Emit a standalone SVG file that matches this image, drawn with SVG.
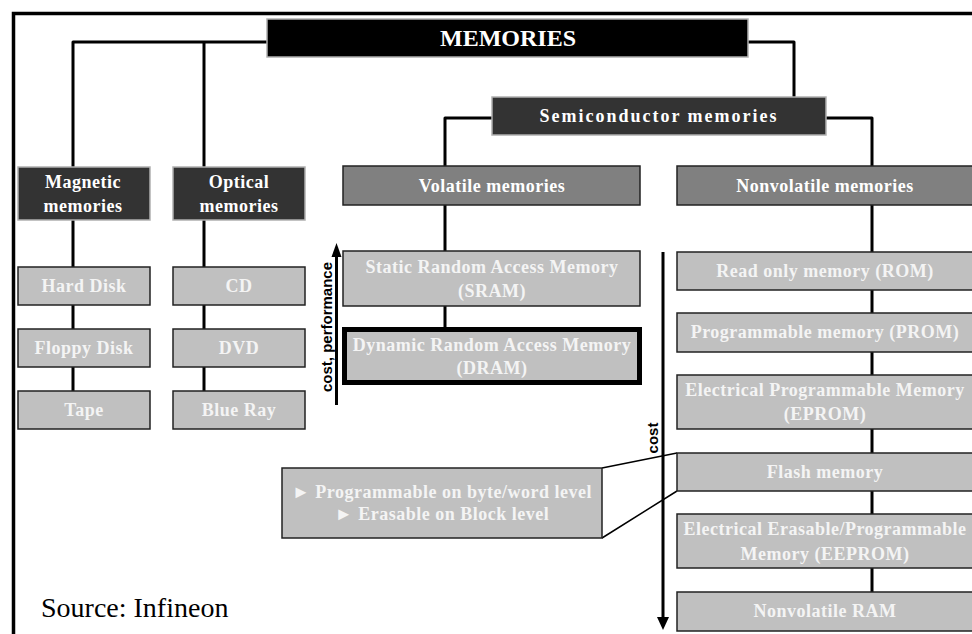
<svg xmlns="http://www.w3.org/2000/svg" width="972" height="634" viewBox="0 0 972 634">
<style>
.t{font-family:"Liberation Serif","Times New Roman",serif;font-weight:bold;font-size:18px;letter-spacing:0.5px;text-anchor:middle;fill:#ffffff}
.tl{fill:#f4f4f4}
.dark{fill:#333333;stroke:#b0b0b0;stroke-width:1.5}
.mid{fill:#808080;stroke:#222222;stroke-width:1.5}
.light{fill:#c0c0c0;stroke:#222222;stroke-width:1.5}
.conn{fill:none;stroke:#000;stroke-width:3;stroke-linejoin:round}
.lab{font-family:"Liberation Sans",Arial,sans-serif;font-weight:bold;font-size:15px;text-anchor:middle;fill:#000}
</style>
<rect x="0" y="0" width="972" height="634" fill="#ffffff"/>
<path d="M13.5,634 V13.5 H972" fill="none" stroke="#000" stroke-width="3.5"/>
<g id="connectors">
<path class="conn" d="M267,42 H73 V167"/>
<path class="conn" d="M204,42 V167"/>
<path class="conn" d="M748,42 H794 V97"/>
<path class="conn" d="M492,118 H445 V166"/>
<path class="conn" d="M826,118 H872 V166"/>
<path class="conn" d="M73,220 V267 M73,305 V329 M73,367 V391"/>
<path class="conn" d="M204,220 V267 M204,305 V329 M204,367 V391"/>
<path class="conn" d="M445,205 V251 M445,306 V327"/>
<path class="conn" d="M872,205 V252 M872,290 V313 M872,352 V375 M872,429 V453 M872,491 V514 M872,568 V592"/>
<path d="M602,468 L677,453 M602,538 L677,491" fill="none" stroke="#000" stroke-width="1.5"/>
<path d="M336.5,405 V255" stroke="#000" stroke-width="3"/>
<polygon points="331.5,257 341.5,257 336.5,243" fill="#000"/>
<path d="M663,252 V618" stroke="#000" stroke-width="3"/>
<polygon points="657,617 669,617 663,630" fill="#000"/>
</g>
<g id="memories">
<rect x="267" y="19" width="481" height="38" fill="#000" stroke="#b0b0b0" stroke-width="1.5"/>
<text class="t" x="508" y="46" style="font-size:24px;letter-spacing:0">MEMORIES</text>
</g>
<g id="semiconductor">
<rect class="dark" x="492" y="97" width="334" height="38"/>
<text class="t" x="659" y="122" style="letter-spacing:2px">Semiconductor memories</text>
</g>
<g id="magnetic">
<rect class="dark" x="18" y="167" width="132" height="53"/>
<text class="t" x="83" y="188">Magnetic</text>
<text class="t" x="83" y="212">memories</text>
</g>
<g id="optical">
<rect class="dark" x="173" y="167" width="132" height="53"/>
<text class="t" x="239" y="188">Optical</text>
<text class="t" x="239" y="212">memories</text>
</g>
<g id="harddisk">
<rect class="light" x="18" y="267" width="132" height="38"/>
<text class="t tl" x="84" y="292">Hard Disk</text>
</g>
<g id="floppy">
<rect class="light" x="18" y="329" width="132" height="38"/>
<text class="t tl" x="84" y="354">Floppy Disk</text>
</g>
<g id="tape">
<rect class="light" x="18" y="391" width="132" height="38"/>
<text class="t tl" x="84" y="416">Tape</text>
</g>
<g id="cd">
<rect class="light" x="173" y="267" width="132" height="38"/>
<text class="t tl" x="239" y="292">CD</text>
</g>
<g id="dvd">
<rect class="light" x="173" y="329" width="132" height="38"/>
<text class="t tl" x="239" y="354">DVD</text>
</g>
<g id="bluray">
<rect class="light" x="173" y="391" width="132" height="38"/>
<text class="t tl" x="239" y="416">Blue Ray</text>
</g>
<g id="volatile">
<rect class="mid" x="343" y="166" width="297" height="39"/>
<text class="t" x="492" y="192">Volatile memories</text>
</g>
<g id="sram">
<rect class="light" x="343" y="251" width="297" height="55"/>
<text class="t tl" x="492" y="273">Static Random Access Memory</text>
<text class="t tl" x="492" y="297">(SRAM)</text>
</g>
<g id="dram">
<rect x="344.5" y="329.5" width="295" height="53" fill="#c0c0c0" stroke="#000" stroke-width="5"/>
<text class="t tl" x="492" y="351">Dynamic Random Access Memory</text>
<text class="t tl" x="492" y="374">(DRAM)</text>
</g>
<g id="nonvolatile">
<rect class="mid" x="677" y="166" width="297" height="39"/>
<text class="t" x="825" y="192">Nonvolatile memories</text>
</g>
<g id="rom">
<rect class="light" x="677" y="252" width="297" height="38"/>
<text class="t tl" x="825" y="277">Read only memory (ROM)</text>
</g>
<g id="prom">
<rect class="light" x="677" y="313" width="297" height="39"/>
<text class="t tl" x="825" y="338">Programmable memory (PROM)</text>
</g>
<g id="eprom">
<rect class="light" x="677" y="375" width="297" height="54"/>
<text class="t tl" x="825" y="396">Electrical Programmable Memory</text>
<text class="t tl" x="825" y="420">(EPROM)</text>
</g>
<g id="flash">
<rect class="light" x="677" y="453" width="297" height="38"/>
<text class="t tl" x="825" y="478">Flash memory</text>
</g>
<g id="eeprom">
<rect class="light" x="677" y="514" width="297" height="54"/>
<text class="t tl" x="825" y="535">Electrical Erasable/Programmable</text>
<text class="t tl" x="825" y="560">Memory (EEPROM)</text>
</g>
<g id="nvram">
<rect class="light" x="677" y="592" width="297" height="39"/>
<text class="t tl" x="825" y="617">Nonvolatile RAM</text>
</g>
<g id="callout">
<rect class="light" x="282" y="468" width="320" height="70"/>
<text class="t tl" x="442" y="498">► Programmable on byte/word level</text>
<text class="t tl" x="442" y="520">► Erasable on Block level</text>
</g>
<g id="labels">
<text class="lab" transform="translate(332,327) rotate(-90)">cost, performance</text>
<text class="lab" transform="translate(658,438) rotate(-90)">cost</text>
<text x="41" y="617" font-family="'Liberation Serif','Times New Roman',serif" font-size="28" fill="#000">Source: Infineon</text>
</g>
</svg>
